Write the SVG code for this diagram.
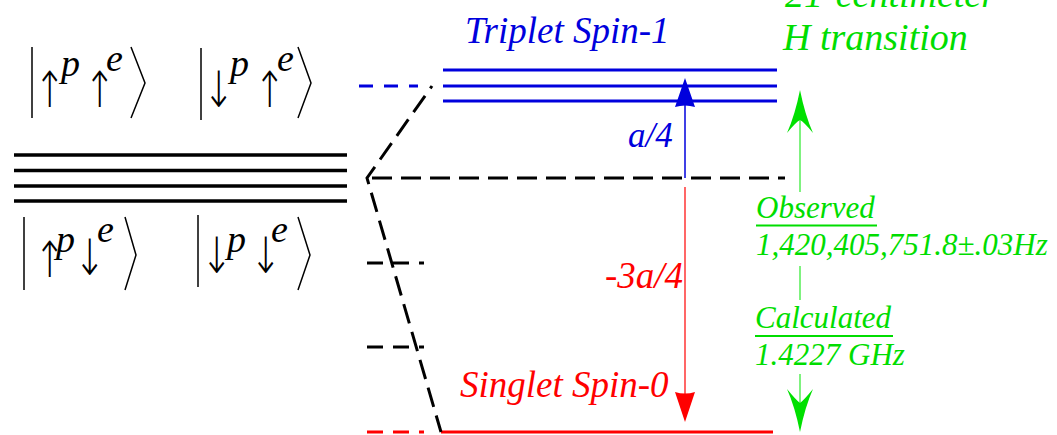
<svg xmlns="http://www.w3.org/2000/svg" width="1057" height="435" viewBox="0 0 1057 435">
<style>
.t{font-family:"Liberation Serif","Times New Roman",serif;font-style:italic}
.ar{font-family:"DejaVu Sans",sans-serif;font-size:50px;font-weight:200;fill:#000}
.sup{font-family:"Liberation Serif",serif;font-style:italic;font-size:38px;fill:#000}
.delim{fill:none;stroke:#000;stroke-width:1.5}
.lvl{fill:none;stroke:#000;stroke-width:3.5}
.blue{fill:none;stroke:#0000dd;stroke-width:3}
.dash{fill:none;stroke:#000;stroke-width:3;stroke-dasharray:20 9}
.g{fill:#00dd00}
.gl{stroke:#55ee55;stroke-width:1.5;fill:none}
</style>
<rect width="1057" height="435" fill="#fff"/>
<g id="unperturbed">
<line class="lvl" x1="14" y1="155" x2="347" y2="155"/>
<line class="lvl" x1="14" y1="170.5" x2="347" y2="170.5"/>
<line class="lvl" x1="14" y1="186" x2="347" y2="186"/>
<line class="lvl" x1="14" y1="201" x2="347" y2="201"/>
</g>
<g id="ket-uu">
<line class="delim" x1="32" y1="47" x2="32" y2="118"/>
<text class="ar" transform="translate(34,107) scale(0.75,1)">↑</text>
<text class="sup" x="61" y="76">p</text>
<text class="ar" transform="translate(84,107) scale(0.75,1)">↑</text>
<text class="sup" x="106" y="71">e</text>
<polyline class="delim" points="131,47 145,83 131,118"/>
</g>
<g id="ket-du">
<line class="delim" x1="201" y1="48" x2="201" y2="120"/>
<text class="ar" transform="translate(203,107) scale(0.75,1)">↓</text>
<text class="sup" x="230" y="76">p</text>
<text class="ar" transform="translate(254,107) scale(0.75,1)">↑</text>
<text class="sup" x="277" y="71">e</text>
<polyline class="delim" points="298,47 311,83 298,118"/>
</g>
<g id="ket-ud">
<line class="delim" x1="24" y1="217" x2="24" y2="290"/>
<text class="ar" transform="translate(34,277) scale(0.75,1)">↑</text>
<text class="sup" x="56" y="252">p</text>
<text class="ar" transform="translate(74,275) scale(0.75,1)">↓</text>
<text class="sup" x="97" y="242">e</text>
<polyline class="delim" points="125,217 136,255 125,290"/>
</g>
<g id="ket-dd">
<line class="delim" x1="198" y1="215" x2="198" y2="287"/>
<text class="ar" transform="translate(201,273) scale(0.75,1)">↓</text>
<text class="sup" x="227" y="252">p</text>
<text class="ar" transform="translate(250,273) scale(0.75,1)">↓</text>
<text class="sup" x="271" y="242">e</text>
<polyline class="delim" points="298,217 310,255 298,290"/>
</g>
<g id="triplet">
<line class="blue" x1="443" y1="70" x2="777" y2="70"/>
<line class="blue" x1="443" y1="86" x2="777" y2="86"/>
<line class="blue" x1="443" y1="101" x2="777" y2="101"/>
<text class="t" x="465" y="43" font-size="37" fill="#0000dd">Triplet Spin-1</text>
</g>
<g id="singlet">
<line x1="441" y1="432" x2="773" y2="432" stroke="#ff0000" stroke-width="3"/>
<text class="t" x="460" y="397" font-size="37" fill="#ff0000">Singlet Spin-0</text>
</g>
<g id="transition-label">
<text class="t g" x="785" y="7" font-size="38">21-centimeter</text>
<text class="t g" x="783" y="50" font-size="38">H transition</text>
</g>
<g id="observed">
<text class="t g" x="756" y="218" font-size="31">Observed</text>
<line x1="756" y1="225.5" x2="877" y2="225.5" stroke="#00dd00" stroke-width="2"/>
<text class="t g" x="756" y="255" font-size="31">1,420,405,751.8±.03Hz</text>
</g>
<g id="calculated">
<text class="t g" x="755" y="328" font-size="31">Calculated</text>
<line x1="755" y1="336" x2="893" y2="336" stroke="#00dd00" stroke-width="2"/>
<text class="t g" x="755" y="365" font-size="31">1.4227 GHz</text>
</g>
<g id="connectors">
<line x1="359" y1="86" x2="418" y2="86" stroke="#0000dd" stroke-width="3" stroke-dasharray="14 11"/>
<polyline class="dash" points="432,86 367,178 441,432" stroke-dashoffset="17"/>
<line class="dash" x1="367" y1="178" x2="785" y2="178" stroke-dashoffset="-5"/>
<line class="dash" x1="367" y1="263" x2="424" y2="263" style="stroke-dasharray:16 10"/>
<line class="dash" x1="367" y1="347" x2="424" y2="347" style="stroke-dasharray:16 10"/>
<line x1="367" y1="432" x2="424" y2="432" stroke="#ff0000" stroke-width="3" stroke-dasharray="16 10"/>
<line x1="685" y1="178" x2="685" y2="104" stroke="#0000dd" stroke-width="1.5"/>
<path d="M685,78 L695,107 Q685,104 675,107 Z" fill="#0000dd"/>
<text class="t" x="628" y="147" font-size="35" fill="#0000dd">a/4</text>
<line x1="685" y1="187" x2="685" y2="395" stroke="#ff0000" stroke-width="1.2"/>
<path d="M685,422 L695,392 Q685,395 675,392 Z" fill="#ff0000"/>
<text class="t" x="605" y="288" font-size="37" fill="#ff0000">-3a/4</text>
<line class="gl" x1="800" y1="118" x2="800" y2="192"/>
<path d="M800,90 Q805,115 813,133 Q804,122 800,120 Q796,122 787,133 Q795,115 800,90 Z" fill="#00e000"/>
<line class="gl" x1="800" y1="266" x2="800" y2="300"/>
<line class="gl" x1="800" y1="374" x2="800" y2="405"/>
<path d="M800,432 Q805,407 813,389 Q804,400 800,403 Q796,400 787,389 Q795,407 800,432 Z" fill="#00e000"/>
</g>
</svg>
